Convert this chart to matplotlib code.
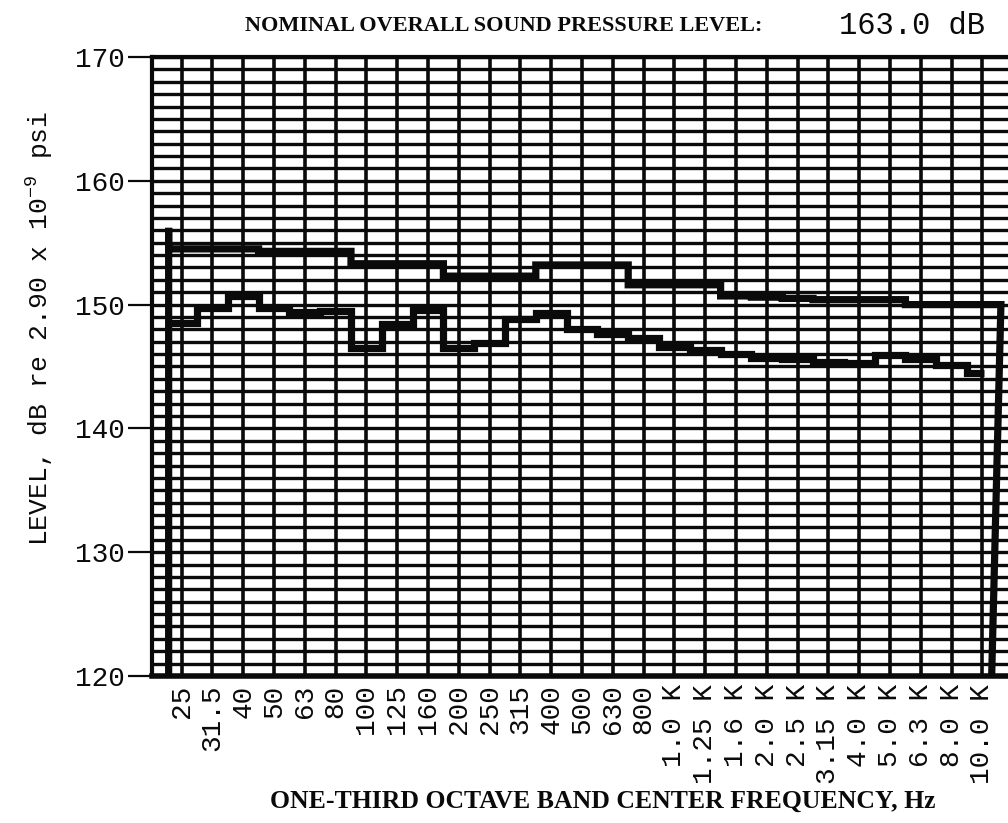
import numpy as np
import matplotlib
matplotlib.use("Agg")
import matplotlib.pyplot as plt

# One-third octave band centre frequencies (labels on the x axis)
bands = ["25", "31.5", "40", "50", "63", "80", "100", "125", "160", "200",
         "250", "315", "400", "500", "630", "800", "1.0 K", "1.25 K", "1.6 K",
         "2.0 K", "2.5 K", "3.15 K", "4.0 K", "5.0 K", "6.3 K", "8.0 K", "10.0 K"]

# Band levels, dB re 2.90e-9 psi
upper_level = [154.5, 154.5, 154.5, 154.3, 154.3, 154.3, 153.3, 153.3, 153.3,
               152.3, 152.3, 152.3, 153.2, 153.2, 153.2, 151.6, 151.6, 151.6,
               150.7, 150.6, 150.5, 150.4, 150.4, 150.4, 150.0, 150.0, 150.0]
lower_level = [148.5, 149.7, 150.7, 149.7, 149.4, 149.5, 146.5, 148.4, 149.6,
               146.5, 146.9, 148.8, 149.3, 148.0, 147.6, 147.3, 146.6, 146.3,
               146.0, 145.7, 145.6, 145.4, 145.3, 145.9, 145.6, 145.1, 144.5]

y_major = [120, 130, 140, 150, 160, 170]
title_left = "NOMINAL OVERALL SOUND PRESSURE LEVEL:"
title_right = "163.0 dB"
x_label = "ONE-THIRD OCTAVE BAND CENTER FREQUENCY, Hz"
y_label = "LEVEL, dB re 2.90 x 10$^{-9}$ psi"

plt.rcParams["mathtext.fontset"] = "custom"
plt.rcParams["mathtext.rm"] = "Liberation Mono"
plt.rcParams["mathtext.default"] = "regular"

INK = "#0a0a0a"
W, H = 1008, 823
fig = plt.figure(figsize=(W / 100, H / 100), dpi=100)
ax = fig.add_axes([151.7 / W, 1 - 676 / H, (W - 151.7) / W, (676 - 57) / H])

n = len(bands)
xpos = np.arange(n)
ax.set_xlim(-0.97, 26.83)
ax.set_ylim(120, 170)

# chart-paper grid: one vertical per band, one horizontal per dB
ax.set_xticks(xpos)
ax.set_xticklabels(bands, rotation=90, family="Liberation Mono", fontsize=20,
                   color=INK)
ax.set_yticks(y_major)
ax.set_yticklabels([str(v) for v in y_major], family="Liberation Mono",
                   fontsize=20, color=INK)
ax.set_yticks(np.arange(120, 171, 1), minor=True)
ax.grid(True, axis="x", which="major", color=INK, lw=2.6)
ax.grid(True, axis="y", which="both", color=INK, lw=2.4)
ax.tick_params(axis="x", which="both", length=0, pad=6)
ax.tick_params(axis="y", which="major", length=17, width=1.6, color=INK, pad=2)
ax.tick_params(axis="y", which="minor", length=0)
ax.spines["right"].set_visible(False)
for side in ("left", "top", "bottom"):
    ax.spines[side].set_color(INK)
ax.spines["left"].set_linewidth(3)
ax.spines["top"].set_linewidth(3)
ax.spines["bottom"].set_linewidth(4)
ax.set_axisbelow(True)


def stair_path(vals, start, stop):
    edges = np.arange(len(vals) + 1, dtype=float) - 0.5
    edges[0] = start
    edges[-1] = stop
    xs = np.repeat(edges, 2)[1:-1]
    ys = np.repeat(np.asarray(vals, dtype=float), 2)
    return xs, ys


# upper trace: rises from the baseline, runs across the bands, drops at the end
ux, uy = stair_path(upper_level, -0.42, 26.6)
ux = np.concatenate([[-0.42, -0.42], ux, [26.3]])
uy = np.concatenate([[120, 156.2], uy, [120]])
ax.plot(ux, uy, color=INK, lw=5.2, solid_joinstyle="miter",
        solid_capstyle="butt", clip_on=False, zorder=5)

# lower trace
lx, ly = stair_path(lower_level, -0.42, 26.05)
ax.plot(lx, ly, color=INK, lw=5.2, solid_joinstyle="miter",
        solid_capstyle="butt", zorder=5)

fig.text(245 / W, 1 - 26 / H, title_left, family="Liberation Serif",
         fontsize=16, weight="bold", color=INK, va="center", ha="left")
fig.text(985 / W, 1 - 26 / H, title_right, family="Liberation Mono",
         fontsize=22, color=INK, va="center", ha="right")
fig.text(603 / W, 1 - 801 / H, x_label, family="Liberation Serif",
         fontsize=18.5, weight="bold", color=INK, va="center", ha="center")
fig.text(40 / W, 1 - 328 / H, y_label, family="Liberation Mono",
         fontsize=19, color=INK, va="center", ha="center", rotation=90)

fig.savefig("out.png", dpi=100, facecolor="white")
